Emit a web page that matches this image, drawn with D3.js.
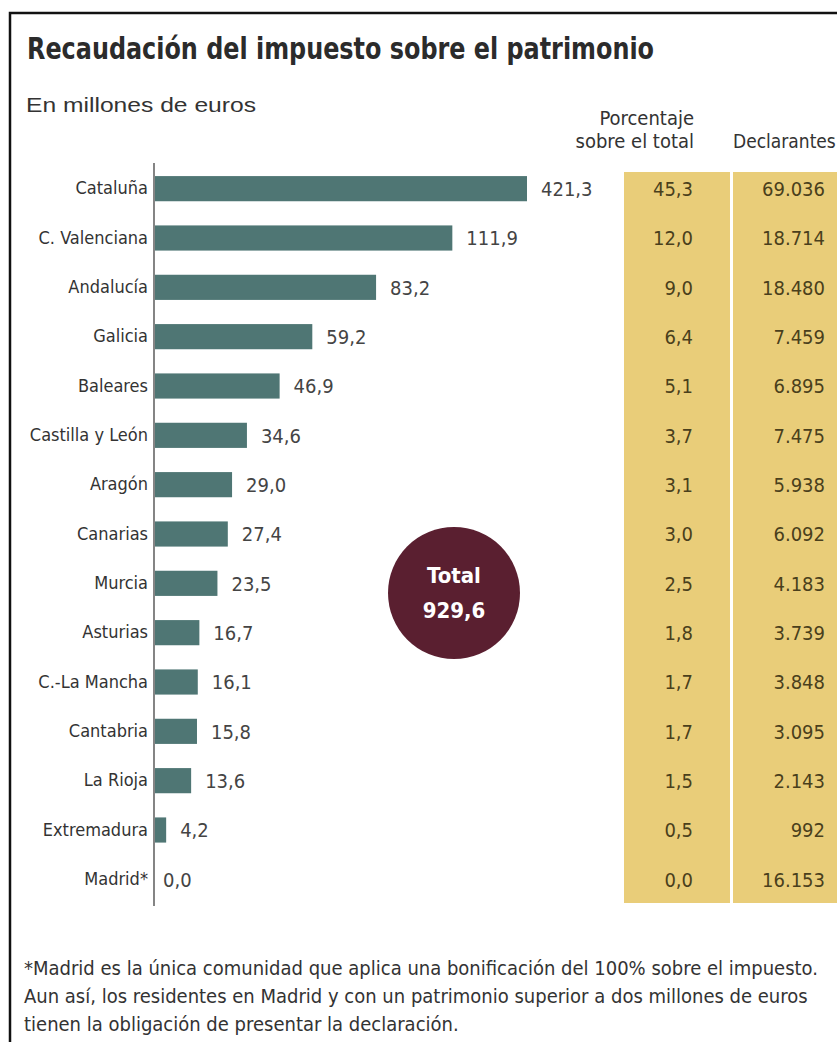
<!DOCTYPE html>
<html>
<head>
<meta charset="utf-8">
<script src="https://cdn.jsdelivr.net/npm/d3@7"></script>
<style>
  body { margin: 0; background: #fff; }
  svg text { font-family: "Liberation Sans Narrow", "DejaVu Sans Condensed", "Roboto", sans-serif; }
</style>
</head>
<body>
<div id="chart"></div>
<script>
// Data
const regions = ['Cataluña', 'C. Valenciana', 'Andalucía', 'Galicia', 'Baleares', 'Castilla y León',
  'Aragón', 'Canarias', 'Murcia', 'Asturias', 'C.-La Mancha', 'Cantabria', 'La Rioja', 'Extremadura', 'Madrid*'];
const recaudacion = [421.3, 111.9, 83.2, 59.2, 46.9, 34.6, 29.0, 27.4, 23.5, 16.7, 16.1, 15.8, 13.6, 4.2, 0.0];
const porcentaje = [45.3, 12.0, 9.0, 6.4, 5.1, 3.7, 3.1, 3.0, 2.5, 1.8, 1.7, 1.7, 1.5, 0.5, 0.0];
const declarantes = [69036, 18714, 18480, 7459, 6895, 7475, 5938, 6092, 4183, 3739, 3848, 3095, 2143, 992, 16153];
const total = 929.6;

const width = 837, height = 1042;
const colors = { bar: '#4f7674', table: '#e9cd79', circle: '#5a1f30', text: '#333', tableText: '#4a3f1c' };

const es = d3.formatLocale({ decimal: ',', thousands: '.', grouping: [3], currency: ['', ' €'] });
const fmt1 = es.format('.1f');
const fmtInt = es.format(',.0f');

const svg = d3.select('#chart').append('svg')
  .attr('width', width)
  .attr('height', height);

// Frame
svg.append('path')
  .attr('d', `M10,${height} V13 H${width + 5}`)
  .attr('fill', 'none')
  .attr('stroke', '#111')
  .attr('stroke-width', 2.5);

// Title + subtitle
svg.append('text')
  .attr('x', 27).attr('y', 59)
  .attr('font-size', 31).attr('font-weight', 'bold')
  .attr('textLength', 627).attr('lengthAdjust', 'spacingAndGlyphs')
  .attr('fill', '#2b2b2b')
  .text('Recaudación del impuesto sobre el patrimonio');

svg.append('text')
  .attr('x', 26).attr('y', 112)
  .attr('font-size', 21)
  .attr('textLength', 230).attr('lengthAdjust', 'spacingAndGlyphs')
  .style('font-family', '"Liberation Sans", Arial, sans-serif')
  .attr('fill', colors.text)
  .text('En millones de euros');

// Column headers
svg.append('text')
  .attr('x', 694).attr('y', 125)
  .attr('font-size', 20).attr('text-anchor', 'end')
  .attr('fill', colors.text)
  .text('Porcentaje');
svg.append('text')
  .attr('x', 694).attr('y', 148)
  .attr('font-size', 20).attr('text-anchor', 'end')
  .attr('fill', colors.text)
  .text('sobre el total');
svg.append('text')
  .attr('x', 733).attr('y', 148)
  .attr('font-size', 19)
  .attr('fill', colors.text)
  .text('Declarantes');

// Scales
const y = d3.scaleBand()
  .domain(regions)
  .range([164, 904])
  .paddingInner(0.49)
  .paddingOuter(0.245);

// Cataluña's bar is cut, so the scale is clamped
const x = d3.scaleLinear()
  .domain([0, 140])
  .range([155, 527])
  .clamp(true);

// Table background
const tableTop = y.range()[0] + 8;
const tableBottom = y.range()[1] - 1;
svg.append('rect')
  .attr('x', 624).attr('y', tableTop)
  .attr('width', 106).attr('height', tableBottom - tableTop)
  .attr('fill', colors.table);
svg.append('rect')
  .attr('x', 733).attr('y', tableTop)
  .attr('width', width - 733 + 5).attr('height', tableBottom - tableTop)
  .attr('fill', colors.table);

// Bars
const rows = svg.append('g');
rows.selectAll('rect.bar')
  .data(regions)
  .join('rect')
    .attr('class', 'bar')
    .attr('x', x(0))
    .attr('y', d => y(d))
    .attr('width', (d, i) => x(recaudacion[i]) - x(0))
    .attr('height', y.bandwidth())
    .attr('fill', colors.bar);

// Axis (category labels on the left, no ticks)
const yAxis = d3.axisLeft(y).tickSize(0).tickPadding(6);
const axisG = svg.append('g')
  .attr('transform', `translate(${x(0) - 1},0)`)
  .call(yAxis);
axisG.select('.domain')
  .attr('d', `M0,163V906`)
  .attr('stroke', '#333')
  .attr('stroke-width', 1.2);
axisG.selectAll('text')
  .attr('font-size', 18)
  .attr('fill', colors.text)
  .style('font-family', '"Liberation Sans Narrow", "DejaVu Sans Condensed", sans-serif');

// Value labels
rows.selectAll('text.val')
  .data(regions)
  .join('text')
    .attr('class', 'val')
    .attr('x', (d, i) => recaudacion[i] > 0 ? x(recaudacion[i]) + 14 : x(0) + 8)
    .attr('y', d => y(d) + y.bandwidth() / 2)
    .attr('dy', '0.36em')
    .attr('font-size', 20)
    .attr('fill', '#444')
    .text((d, i) => fmt1(recaudacion[i]));

// Table values
rows.selectAll('text.pct')
  .data(regions)
  .join('text')
    .attr('class', 'pct')
    .attr('x', 693)
    .attr('y', d => y(d) + y.bandwidth() / 2)
    .attr('dy', '0.36em')
    .attr('text-anchor', 'end')
    .attr('font-size', 20)
    .attr('fill', colors.tableText)
    .text((d, i) => fmt1(porcentaje[i]));

rows.selectAll('text.dec')
  .data(regions)
  .join('text')
    .attr('class', 'dec')
    .attr('x', 825)
    .attr('y', d => y(d) + y.bandwidth() / 2)
    .attr('dy', '0.36em')
    .attr('text-anchor', 'end')
    .attr('font-size', 20)
    .attr('fill', colors.tableText)
    .text((d, i) => fmtInt(declarantes[i]));

// Total bubble
const bubble = svg.append('g').attr('transform', 'translate(454,593)');
bubble.append('circle')
  .attr('r', 66)
  .attr('fill', colors.circle);
bubble.append('text')
  .attr('y', -10)
  .attr('text-anchor', 'middle')
  .attr('font-size', 22).attr('font-weight', 'bold')
  .attr('fill', '#fff')
  .text('Total');
bubble.append('text')
  .attr('y', 25)
  .attr('text-anchor', 'middle')
  .attr('font-size', 22).attr('font-weight', 'bold')
  .attr('fill', '#fff')
  .text(fmt1(total));

// Footnote
const notes = [
  '*Madrid es la única comunidad que aplica una bonificación del 100% sobre el impuesto.',
  'Aun así, los residentes en Madrid y con un patrimonio superior a dos millones de euros',
  'tienen la obligación de presentar la declaración.'
];
svg.append('g').selectAll('text')
  .data(notes)
  .join('text')
    .attr('x', 24)
    .attr('y', (d, i) => 975 + i * 28)
    .attr('font-size', 20)
    .attr('fill', colors.text)
    .text(d => d);
</script>
</body>
</html>
